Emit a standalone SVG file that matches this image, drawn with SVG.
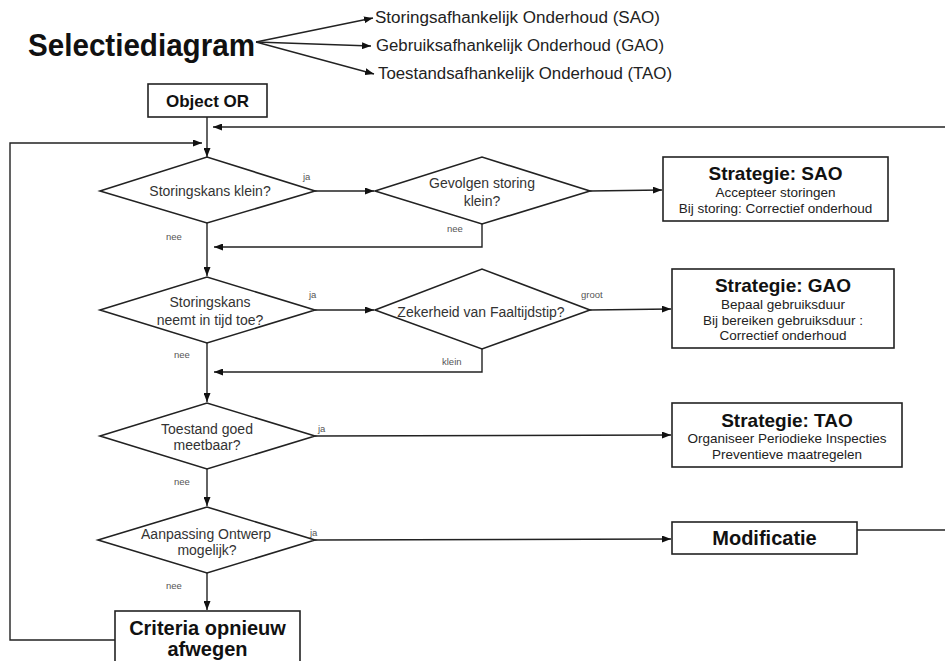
<svg xmlns="http://www.w3.org/2000/svg" width="945" height="661" viewBox="0 0 945 661">
<defs>
<marker id="ah" markerUnits="userSpaceOnUse" markerWidth="9" markerHeight="7" refX="9" refY="3.5" orient="auto">
<path d="M0,0 L9,3.5 L0,7 z" fill="#111"/>
</marker>
<style>
.ln{fill:none;stroke:#222;stroke-width:1.4}
.shape{fill:#fff;stroke:#222;stroke-width:1.6}
.dt{font-family:"Liberation Sans",Arial,sans-serif;font-size:14px;fill:#333;text-anchor:middle}
.lb{font-family:"Liberation Sans",Arial,sans-serif;font-size:9.5px;fill:#555}
.bt{font-family:"Liberation Sans",Arial,sans-serif;font-weight:bold;fill:#111;text-anchor:middle}
.st{font-family:"Liberation Sans",Arial,sans-serif;font-size:13.5px;fill:#222;text-anchor:middle}
.tl{font-family:"Liberation Sans",Arial,sans-serif;font-size:16px;fill:#222}
</style>
</defs>
<rect width="945" height="661" fill="#fff"/>

<g id="title">
<text x="28" y="56" font-family="'Liberation Sans',Arial,sans-serif" font-weight="bold" font-size="31" fill="#111" textLength="227" lengthAdjust="spacingAndGlyphs">Selectiediagram</text>
<text class="tl" x="375" y="23" textLength="285" lengthAdjust="spacingAndGlyphs">Storingsafhankelijk Onderhoud (SAO)</text>
<text class="tl" x="376" y="51" textLength="288" lengthAdjust="spacingAndGlyphs">Gebruiksafhankelijk Onderhoud (GAO)</text>
<text class="tl" x="378" y="79" textLength="294" lengthAdjust="spacingAndGlyphs">Toestandsafhankelijk Onderhoud (TAO)</text>
</g>

<g id="connectors">
<line class="ln" x1="256" y1="42" x2="373" y2="18" marker-end="url(#ah)"/>
<line class="ln" x1="256" y1="42" x2="371" y2="46" marker-end="url(#ah)"/>
<line class="ln" x1="256" y1="42" x2="374" y2="74" marker-end="url(#ah)"/>
<line class="ln" x1="207" y1="117" x2="207" y2="157" marker-end="url(#ah)"/>
<line class="ln" x1="945" y1="127" x2="213" y2="127" marker-end="url(#ah)"/>
<polyline class="ln" points="115,640 10,640 10,143 202,143" marker-end="url(#ah)"/>
<line class="ln" x1="207" y1="223" x2="207" y2="276" marker-end="url(#ah)"/>
<line class="ln" x1="315" y1="191" x2="374" y2="191" marker-end="url(#ah)"/>
<line class="ln" x1="590" y1="191" x2="662" y2="190" marker-end="url(#ah)"/>
<polyline class="ln" points="482,224 482,247 214,247" marker-end="url(#ah)"/>
<line class="ln" x1="315" y1="310" x2="374" y2="310" marker-end="url(#ah)"/>
<line class="ln" x1="590" y1="310" x2="671" y2="309" marker-end="url(#ah)"/>
<polyline class="ln" points="482,349 482,372 214,372" marker-end="url(#ah)"/>
<line class="ln" x1="207" y1="343" x2="207" y2="402" marker-end="url(#ah)"/>
<line class="ln" x1="315" y1="436" x2="671" y2="435" marker-end="url(#ah)"/>
<line class="ln" x1="207" y1="469" x2="207" y2="506" marker-end="url(#ah)"/>
<line class="ln" x1="315" y1="540" x2="671" y2="539" marker-end="url(#ah)"/>
<line class="ln" x1="207" y1="573" x2="207" y2="610" marker-end="url(#ah)"/>
<line class="ln" x1="857" y1="530" x2="945" y2="530"/>
<text class="lb" x="303" y="180">ja</text>
<text class="lb" x="166" y="240">nee</text>
<text class="lb" x="447" y="232">nee</text>
<text class="lb" x="309" y="298">ja</text>
<text class="lb" x="581" y="298">groot</text>
<text class="lb" x="174" y="358">nee</text>
<text class="lb" x="442" y="365">klein</text>
<text class="lb" x="318" y="432">ja</text>
<text class="lb" x="174" y="485">nee</text>
<text class="lb" x="310" y="536">ja</text>
<text class="lb" x="166" y="589">nee</text>
</g>

<g id="object-or">
<rect class="shape" x="148" y="84" width="119" height="33"/>
<text class="bt" x="207.5" y="107" font-size="17">Object OR</text>
</g>

<g id="d1">
<polygon class="shape" points="100,191 207,157 315,191 207,223"/>
<text class="dt" x="210" y="196">Storingskans klein?</text>
</g>

<g id="d2">
<polygon class="shape" points="375,191 482,157 590,191 482,224"/>
<text class="dt" x="482" y="188">Gevolgen storing</text>
<text class="dt" x="482" y="206">klein?</text>
</g>

<g id="sao">
<rect class="shape" x="663" y="157" width="225" height="64"/>
<text class="bt" x="775.5" y="180" font-size="19">Strategie: SAO</text>
<text class="st" x="775.5" y="197">Accepteer storingen</text>
<text class="st" x="775.5" y="213">Bij storing: Correctief onderhoud</text>
</g>

<g id="d3">
<polygon class="shape" points="100,310 207,277 315,310 207,343"/>
<text class="dt" x="210" y="307">Storingskans</text>
<text class="dt" x="210" y="325">neemt in tijd toe?</text>
</g>

<g id="d4">
<polygon class="shape" points="375,310 482,269 590,310 482,349"/>
<text class="dt" x="481" y="317">Zekerheid van Faaltijdstip?</text>
</g>

<g id="gao">
<rect class="shape" x="672" y="269" width="222" height="79"/>
<text class="bt" x="783" y="292" font-size="19">Strategie: GAO</text>
<text class="st" x="783" y="309">Bepaal gebruiksduur</text>
<text class="st" x="783" y="325">Bij bereiken gebruiksduur  :</text>
<text class="st" x="783" y="340">Correctief onderhoud</text>
</g>

<g id="d5">
<polygon class="shape" points="100,436 207,403 315,436 207,469"/>
<text class="dt" x="207" y="434">Toestand goed</text>
<text class="dt" x="207" y="450">meetbaar?</text>
</g>

<g id="tao">
<rect class="shape" x="672" y="403" width="230" height="64"/>
<text class="bt" x="787" y="427" font-size="19">Strategie: TAO</text>
<text class="st" x="787" y="443">Organiseer Periodieke Inspecties</text>
<text class="st" x="787" y="459">Preventieve maatregelen</text>
</g>

<g id="d6">
<polygon class="shape" points="98,540 207,507 315,540 207,573"/>
<text class="dt" x="206" y="539">Aanpassing Ontwerp</text>
<text class="dt" x="207" y="555">mogelijk?</text>
</g>

<g id="modificatie">
<rect class="shape" x="672" y="522" width="185" height="32"/>
<text class="bt" x="764.5" y="545" font-size="20">Modificatie</text>
</g>

<g id="criteria">
<rect class="shape" x="115" y="611" width="185" height="60"/>
<text class="bt" x="207.5" y="635" font-size="20">Criteria opnieuw</text>
<text class="bt" x="207.5" y="656" font-size="20">afwegen</text>
</g>
</svg>
